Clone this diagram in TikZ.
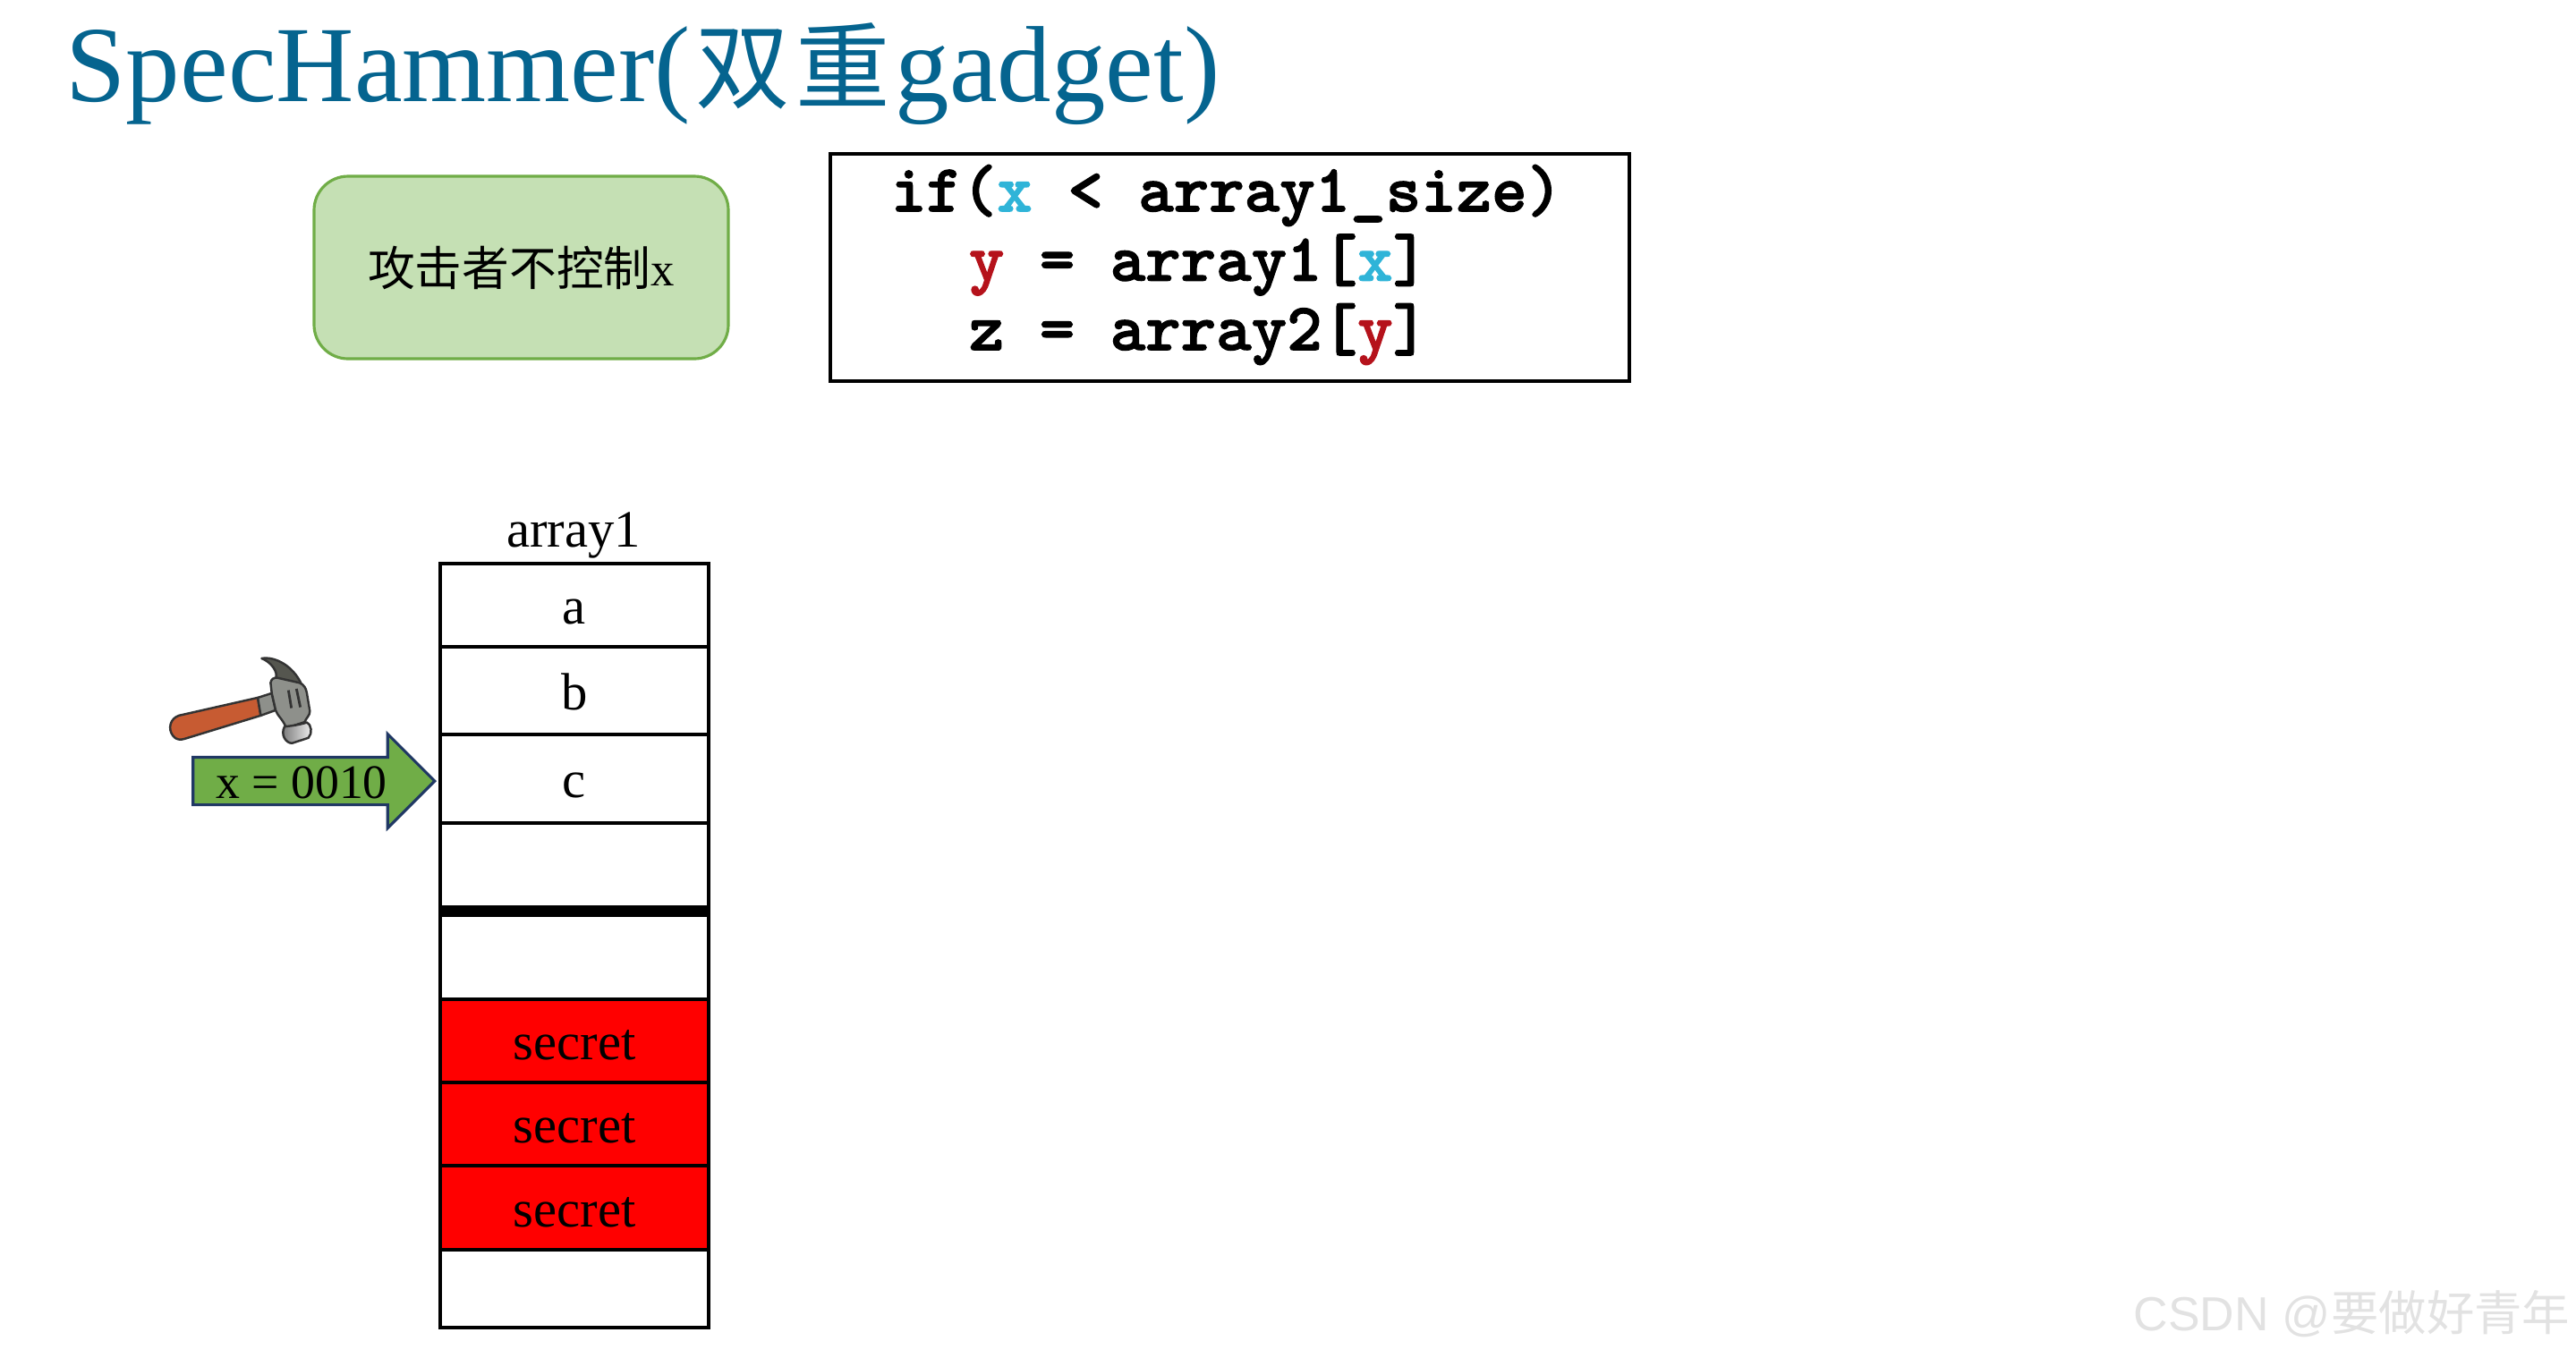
\documentclass[tikz,border=0pt]{standalone}
\usepackage{fontspec}
\setmainfont{Liberation Serif}
\setsansfont{Liberation Sans}
\newfontfamily\cjk{Noto Sans CJK SC}
\newfontfamily\myCodeFont[BoldFeatures={FakeBold=1.6}]{Latin Modern Mono Light}
\usetikzlibrary{calc,shapes.arrows,positioning}
\definecolor{myTitleBlue}{HTML}{05648F}
\definecolor{myGreenFill}{HTML}{C5E0B4}
\definecolor{myGreen}{HTML}{70AD47}
\definecolor{myNavy}{HTML}{203864}
\definecolor{myCodeBlue}{HTML}{2FB4D8}
\definecolor{myCodeRed}{HTML}{B5121B}
\definecolor{myHandle}{HTML}{C75B32}
\definecolor{myIron}{HTML}{8E908B}
\definecolor{myIronDark}{HTML}{55564F}
\definecolor{myMark}{HTML}{E2E2E2}
\tikzset{
myTitle/.style={
	anchor=base west,inner sep=0pt,text=myTitleBlue,
	font=\fontsize{34.4}{40}\selectfont
}
, myNote/.style={
	rectangle,rounded corners=3.8mm,draw=myGreen,fill=myGreenFill,
	line width=0.9pt,minimum width=4.63cm,minimum height=2.04cm,
	inner sep=0pt,font=\fontsize{15}{18}\selectfont
}
, myCode/.style={
	rectangle,draw=black,line width=0.9pt,
	minimum width=8.93cm,minimum height=2.54cm,inner sep=0pt
}
, myCodeText/.style={
	inner sep=0pt,align=left,
	font=\myCodeFont\bfseries\fontsize{21.4}{22.05}\selectfont
}
% array cells
, myCell/.style={
	rectangle,draw=black,line width=0.9pt,outer sep=0pt,
	minimum width=3cm,inner sep=0pt,
	text height=5.8mm,text depth=1.6mm,
	font=\fontsize{16.7}{20}\selectfont
}
, mySecret/.style={myCell,fill=red}
, myCaption/.style={anchor=base,inner sep=0pt,font=\fontsize{16.7}{20}\selectfont}
, myBorder/.style={line width=3.7pt}
% pointer
, myPointer/.style={
	single arrow,draw=myNavy,fill=myGreen,line width=0.9pt,
	minimum height=2.70cm,inner sep=2.5mm,
	single arrow head extend=2.6mm,single arrow head indent=0pt,
	single arrow tip angle=90
}
, myPointerText/.style={anchor=base,inner sep=0pt,font=\fontsize{15.3}{18}\selectfont}
% hammer
, myHammerLine/.style={draw=black!80,line width=0.7pt,line join=round}
, myWatermark/.style={
	anchor=base east,inner sep=0pt,text=myMark,
	font=\sffamily\fontsize{15.2}{18}\selectfont
}
}
\begin{document}
\begin{tikzpicture}
	\useasboundingbox (0,0) rectangle (28.79,-15.17);
	% title
	\node[myTitle] (Title) at (0.73,-1.13) {SpecHammer(\hspace{.6mm}{\cjk\fontsize{30}{36}\selectfont 双\hspace{.6mm}重}\hspace{.6mm}gadget)};
	% note and code
	\node[myNote] (Note) at (5.825,-2.99) {{\cjk 攻击者不控制}x};
	\node[myCode] (Code) at (13.745,-2.99) {};
	\node[myCodeText] (CodeText) at (13.71,-2.96) {if(\textcolor{myCodeBlue}{x} < array1\_size)\\
		\hspace*{.8mm}~~\textcolor{myCodeRed}{y} = array1[\textcolor{myCodeBlue}{x}]\\
		\hspace*{.8mm}~~z = array2[\textcolor{myCodeRed}{y}]};
	% array
	\node[myCell,minimum height=9.3mm] (CellA) at (6.42,-6.765) {a};
	\node[myCell,minimum height=9.8mm] (CellB) [below=0pt of CellA] {b};
	\node[myCell,minimum height=9.9mm] (CellC) [below=0pt of CellB] {c};
	\node[myCell,minimum height=9.8mm] (CellD) [below=0pt of CellC] {};
	\node[myCell,minimum height=9.9mm] (CellE) [below=0pt of CellD] {};
	\node[mySecret,minimum height=9.3mm] (SecretA) [below=0pt of CellE] {secret};
	\node[mySecret,minimum height=9.3mm] (SecretB) [below=0pt of SecretA] {secret};
	\node[mySecret,minimum height=9.4mm] (SecretC) [below=0pt of SecretB] {secret};
	\node[myCell,minimum height=8.7mm] (CellF) [below=0pt of SecretC] {};
	\draw[myBorder] (CellE.north west) -- (CellE.north east);
	\node[myCaption] (Caption) at (6.41,-6.11) {array1};
	% pointer
	\node[myPointer,anchor=tip] (Pointer) at (4.88,-8.73) {};
	\node[myPointerText] (PointerText) at (3.37,-8.92) {x = 0010};
	% hammer
	\begin{scope}[shift={(1.8,-7.2)},x=0.00333cm,y=-0.00333cm]
		\draw[myHammerLine,fill=myHandle] (325,180) -- (60,240) .. controls (30,250) and (22,285) .. (40,308) .. controls (50,322) and (65,323) .. (80,318) -- (335,240) -- cycle;
		\draw[myHammerLine,fill=myIron] (325,180) -- (372,165) -- (385,222) -- (335,240) -- cycle;
		\draw[myHammerLine,fill=myIronDark] (338,48) .. controls (385,40) and (445,75) .. (472,135) -- (385,115) .. controls (395,95) and (370,60) .. (338,48) -- cycle;
		\draw[myHammerLine,fill=myIron] (368,130) .. controls (370,118) and (378,112) .. (390,113) -- (465,130) .. controls (480,135) and (488,150) .. (490,165) -- (500,225) .. controls (500,240) and (490,245) .. (482,262) -- (420,282) .. controls (412,255) and (390,240) .. (385,222) -- (372,165) -- cycle;
		\draw[myHammerLine,line width=0.8pt] (428,155) -- (438,215);
		\draw[myHammerLine,line width=0.8pt] (455,150) -- (468,212);
		\draw[myHammerLine,left color=black!55,right color=black!5] (415,277) .. controls (440,275) and (470,270) .. (490,263) .. controls (505,270) and (510,300) .. (495,315) -- (440,333) .. controls (420,333) and (400,305) .. (415,277) -- cycle;
	\end{scope}
	% watermark
	\node[myWatermark] (Mark) at (28.73,-14.87) {CSDN @{\cjk 要做好青年}};
\end{tikzpicture}
\end{document}
